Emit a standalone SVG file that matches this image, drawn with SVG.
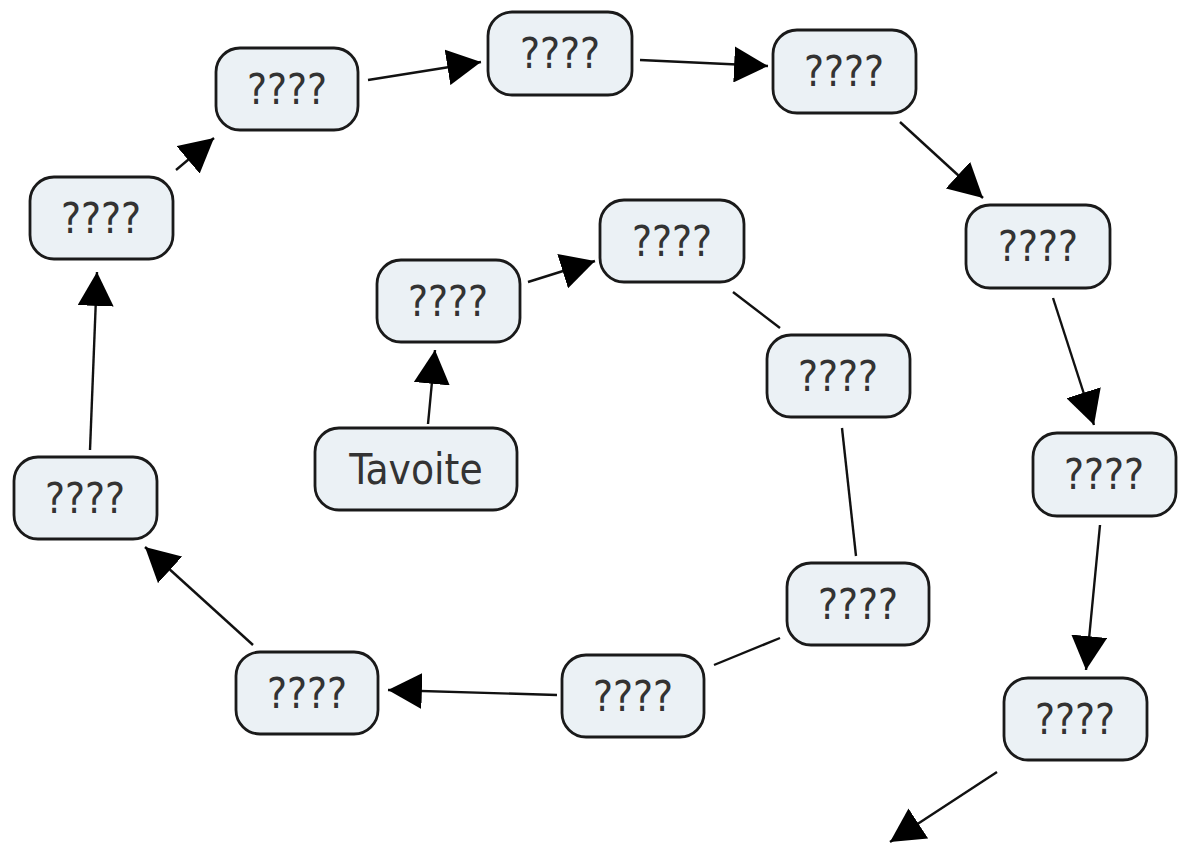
<svg xmlns="http://www.w3.org/2000/svg" width="1184" height="849" viewBox="0 0 1184 849">
<style>
.n rect{fill:#ebf1f5;stroke:#1a1a1a;stroke-width:2.8}
.n text{font-family:"DejaVu Sans Condensed","DejaVu Sans",Verdana,sans-serif;font-size:42px;fill:#333;text-anchor:middle;dominant-baseline:central}
.c line{stroke:#111;stroke-width:2.4}
.c line.a{marker-end:url(#ah)}
</style>
<defs>
<marker id="ah" markerUnits="userSpaceOnUse" markerWidth="36" markerHeight="36" refX="32" refY="17" orient="auto" viewBox="0 0 34 34">
<path d="M0,0 L32,17 L0,34 Z" fill="#000"/>
</marker>
</defs>
<rect width="1184" height="849" fill="#fff"/>
<g class="c" id="connectors">
<line class="a" x1="428" y1="424" x2="435" y2="350"/>
<line class="a" x1="528" y1="282" x2="595" y2="261"/>
<line x1="733" y1="292" x2="780" y2="328"/>
<line x1="842" y1="428" x2="856" y2="556"/>
<line x1="780" y1="638" x2="714" y2="665"/>
<line class="a" x1="557" y1="695" x2="388" y2="690"/>
<line class="a" x1="253" y1="645" x2="145" y2="547"/>
<line class="a" x1="90" y1="450" x2="97" y2="272"/>
<line class="a" x1="176" y1="170" x2="214" y2="138"/>
<line class="a" x1="368" y1="80" x2="481" y2="62"/>
<line class="a" x1="640" y1="60" x2="768" y2="66"/>
<line class="a" x1="900" y1="122" x2="983" y2="198"/>
<line class="a" x1="1053" y1="298" x2="1094" y2="425"/>
<line class="a" x1="1100" y1="525" x2="1086" y2="670"/>
<line class="a" x1="997" y1="772" x2="890" y2="842"/>
</g>
<g class="n" id="tavoite"><rect x="315" y="428" width="202" height="82" rx="24"/><text x="416" y="469">Tavoite</text></g>
<g class="n" id="n1"><rect x="377" y="260" width="143" height="82" rx="24"/><text x="448" y="301">????</text></g>
<g class="n" id="n2"><rect x="600" y="200" width="144" height="82" rx="24"/><text x="672" y="241">????</text></g>
<g class="n" id="n3"><rect x="767" y="335" width="143" height="82" rx="24"/><text x="838" y="376">????</text></g>
<g class="n" id="n4"><rect x="787" y="563" width="142" height="82" rx="24"/><text x="858" y="604">????</text></g>
<g class="n" id="n5"><rect x="562" y="655" width="142" height="82" rx="24"/><text x="633" y="696">????</text></g>
<g class="n" id="n6"><rect x="236" y="652" width="142" height="82" rx="24"/><text x="307" y="693">????</text></g>
<g class="n" id="n7"><rect x="14" y="457" width="143" height="82" rx="24"/><text x="85" y="498">????</text></g>
<g class="n" id="n8"><rect x="30" y="177" width="143" height="82" rx="24"/><text x="101" y="218">????</text></g>
<g class="n" id="n9"><rect x="216" y="48" width="142" height="82" rx="24"/><text x="287" y="89">????</text></g>
<g class="n" id="n10"><rect x="488" y="12" width="144" height="83" rx="24"/><text x="560" y="53">????</text></g>
<g class="n" id="n11"><rect x="773" y="30" width="143" height="83" rx="24"/><text x="844" y="71">????</text></g>
<g class="n" id="n12"><rect x="966" y="205" width="144" height="83" rx="24"/><text x="1038" y="246">????</text></g>
<g class="n" id="n13"><rect x="1033" y="433" width="143" height="83" rx="24"/><text x="1104" y="474">????</text></g>
<g class="n" id="n14"><rect x="1004" y="678" width="143" height="82" rx="24"/><text x="1075" y="719">????</text></g>
</svg>
